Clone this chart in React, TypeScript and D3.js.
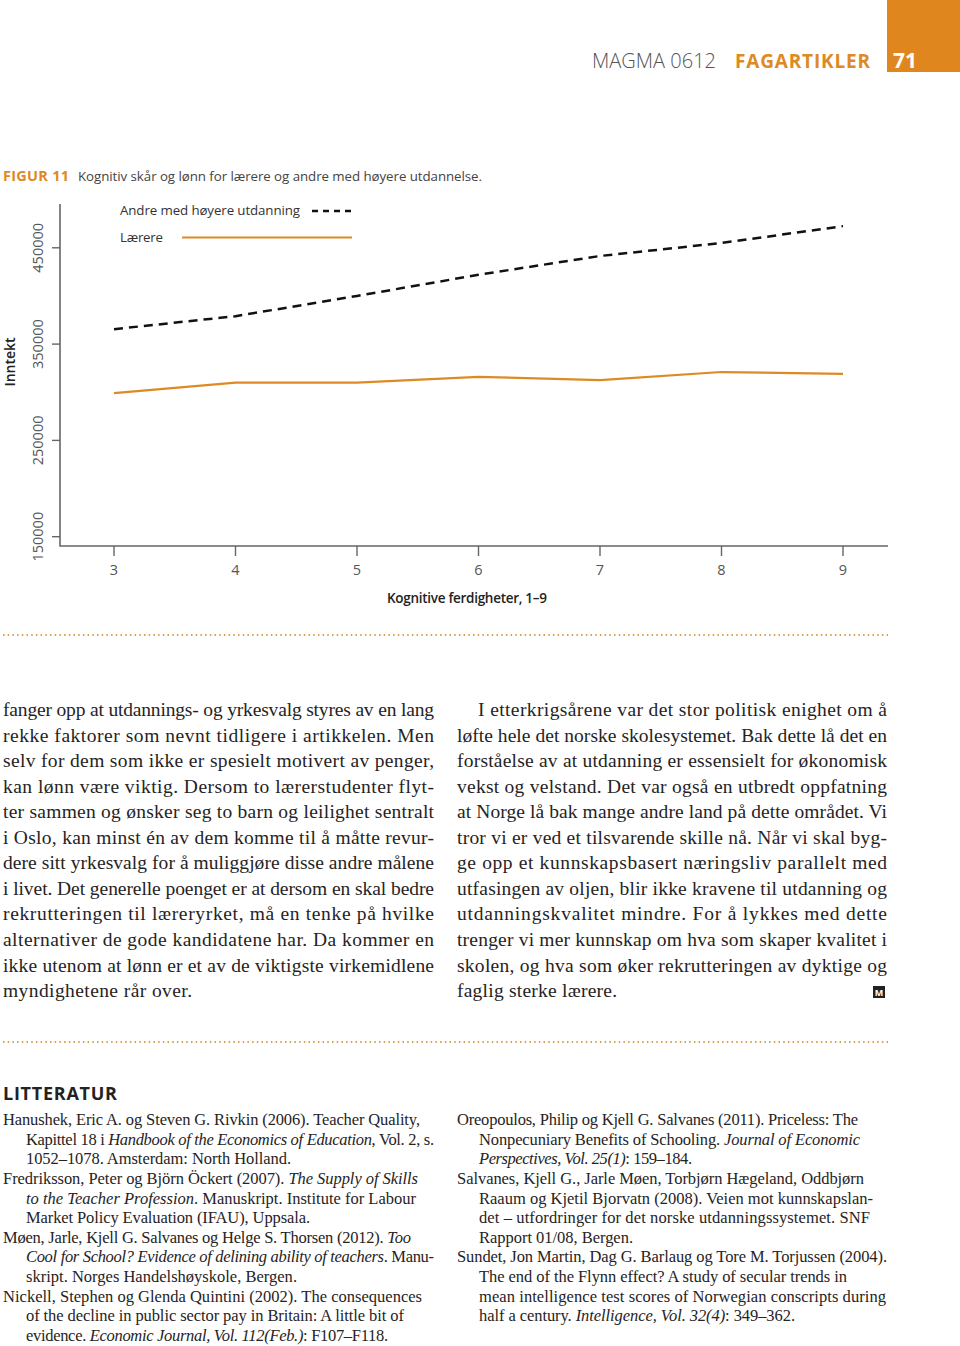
import React from "react";
import * as d3 from "d3";

// ---- Data ----
const skills = [3, 4, 5, 6, 7, 8, 9];
const teachers = [299000, 310000, 310000, 316000, 312500, 321000, 319000];
const others = [365500, 379000, 400000, 422000, 441500, 455000, 472500];
const yTicks = [150000, 250000, 350000, 450000];
const seriesNames = ["Andre med høyere utdanning", "Lærere"];

const leftBody = [
  "fanger opp at utdannings- og yrkesvalg styres av en lang",
  "rekke faktorer som nevnt tidligere i artikkelen. Men",
  "selv for dem som ikke er spesielt motivert av penger,",
  "kan lønn være viktig. Dersom to lærerstudenter flyt-",
  "ter sammen og ønsker seg to barn og leilighet sentralt",
  "i Oslo, kan minst én av dem komme til å måtte revur-",
  "dere sitt yrkesvalg for å muliggjøre disse andre målene",
  "i livet. Det generelle poenget er at dersom en skal bedre",
  "rekrutteringen til læreryrket, må en tenke på hvilke",
  "alternativer de gode kandidatene har. Da kommer en",
  "ikke utenom at lønn er et av de viktigste virkemidlene",
  "myndighetene rår over.",
];
const rightBody = [
  "I etterkrigsårene var det stor politisk enighet om å",
  "løfte hele det norske skolesystemet. Bak dette lå det en",
  "forståelse av at utdanning er essensielt for økonomisk",
  "vekst og velstand. Det var også en utbredt oppfatning",
  "at Norge lå bak mange andre land på dette området. Vi",
  "tror vi er ved et tilsvarende skille nå. Når vi skal byg-",
  "ge opp et kunnskapsbasert næringsliv parallelt med",
  "utfasingen av oljen, blir ikke kravene til utdanning og",
  "utdanningskvalitet mindre. For å lykkes med dette",
  "trenger vi mer kunnskap om hva som skaper kvalitet i",
  "skolen, og hva som øker rekrutteringen av dyktige og",
  "faglig sterke lærere.",
];

const leftRefs = [
  "Hanushek, Eric A. og Steven G. Rivkin (2006). Teacher Quality,",
  "Kapittel 18 i *Handbook of the Economics of Education*, Vol. 2, s.",
  "1052–1078. Amsterdam: North Holland.",
  "Fredriksson, Peter og Björn Öckert (2007). *The Supply of Skills*",
  "*to the Teacher Profession*. Manuskript. Institute for Labour",
  "Market Policy Evaluation (IFAU), Uppsala.",
  "Møen, Jarle, Kjell G. Salvanes og Helge S. Thorsen (2012). *Too*",
  "*Cool for School? Evidence of delining ability of teachers*. Manu-",
  "skript. Norges Handelshøyskole, Bergen.",
  "Nickell, Stephen og Glenda Quintini (2002). The consequences",
  "of the decline in public sector pay in Britain: A little bit of",
  "evidence. *Economic Journal, Vol. 112(Feb.)*: F107–F118.",
];
const rightRefs = [
  "Oreopoulos, Philip og Kjell G. Salvanes (2011). Priceless: The",
  "Nonpecuniary Benefits of Schooling. *Journal of Economic*",
  "*Perspectives, Vol. 25(1)*: 159–184.",
  "Salvanes, Kjell G., Jarle Møen, Torbjørn Hægeland, Oddbjørn",
  "Raaum og Kjetil Bjorvatn (2008). Veien mot kunnskapslan-",
  "det – utfordringer for det norske utdanningssystemet. SNF",
  "Rapport 01/08, Bergen.",
  "Sundet, Jon Martin, Dag G. Barlaug og Tore M. Torjussen (2004).",
  "The end of the Flynn effect? A study of secular trends in",
  "mean intelligence test scores of Norwegian conscripts during",
  "half a century. *Intelligence, Vol. 32(4)*: 349–362.",
];

// ---- Layout (not data) ----
const leftRefIndent = [0, 1, 1, 0, 1, 1, 0, 1, 1, 0, 1, 1];
const leftRefEnd = [420, 434, 291, 418, 416, 310, 411, 434, 297, 422, 404, 388];
const rightRefIndent = [0, 1, 1, 0, 1, 1, 1, 0, 1, 1, 1];
const rightRefEnd = [858, 860, 692, 864, 873, 870, 633, 887, 847, 886, 795];

const ORANGE = "#DE8A24";
const SANS = "'Open Sans', 'DejaVu Sans', sans-serif";
const SERIF = "'Liberation Serif', 'DejaVu Serif', serif";
const TEXT = "#262324";

function Segs({ s }: { s: string }) {
  const parts = s.split("*");
  return (
    <>
      {parts.map((p, i) =>
        p ? (
          <tspan key={i} fontStyle={i % 2 === 1 ? "italic" : "normal"}>
            {p}
          </tspan>
        ) : null
      )}
    </>
  );
}

export default function App() {
  const x = d3.scaleLinear().domain([3, 9]).range([114, 843]);
  const y = d3.scaleLinear().domain([150000, 450000]).range([536.7, 247.8]);
  const line = d3
    .line<number>()
    .x((_, i) => x(skills[i]))
    .y((d) => y(d));

  const bodyBase = 716;
  const bodyStep = 25.55;
  const refBase = 1125;
  const refStep = 19.64;

  return (
    <svg
      width={960}
      height={1346}
      style={{ position: "absolute", left: 0, top: 0, background: "#fff" }}
    >
      <rect x={0} y={0} width={960} height={1346} fill="#fff" />
      {/* Header */}
      <rect x={887} y={0} width={73} height={72} fill="#E0861E" />
      <text x={893} y={68} fontFamily={SANS} fontWeight={700} fontSize={21} fill="#fff">
        71
      </text>
      <text
        x={592}
        y={68}
        fontFamily={SANS}
        fontWeight={300}
        fontSize={20}
        fill="#555"
        textLength={124}
        lengthAdjust="spacing"
      >
        MAGMA 0612
      </text>
      <text
        x={735}
        y={68}
        fontFamily={SANS}
        fontWeight={700}
        fontSize={19}
        fill={ORANGE}
        textLength={135}
        lengthAdjust="spacing"
      >
        FAGARTIKLER
      </text>

      {/* Caption */}
      <text
        x={3}
        y={181}
        fontFamily={SANS}
        fontWeight={700}
        fontSize={14.5}
        fill={ORANGE}
        textLength={66}
        lengthAdjust="spacing"
      >
        FIGUR 11
      </text>
      <text
        x={78}
        y={181}
        fontFamily={SANS}
        fontWeight={400}
        fontSize={13.3}
        fill="#444"
        textLength={404}
        lengthAdjust="spacing"
      >
        Kognitiv skår og lønn for lærere og andre med høyere utdannelse.
      </text>

      {/* Chart axes */}
      <path d="M60,204 V546 H888" fill="none" stroke="#666" strokeWidth={1.6} />
      {yTicks.map((t) => (
        <g key={t}>
          <line x1={52} x2={60} y1={y(t)} y2={y(t)} stroke="#666" strokeWidth={1.4} />
          <text
            transform={`translate(42.5,${y(t)}) rotate(-90)`}
            textAnchor="middle"
            fontFamily={SANS}
            fontSize={14.5}
            fontWeight={400}
            fill="#555"
          >
            {t}
          </text>
        </g>
      ))}
      {skills.map((s) => (
        <g key={s}>
          <line x1={x(s)} x2={x(s)} y1={546} y2={556} stroke="#666" strokeWidth={1.4} />
          <text
            x={x(s)}
            y={575}
            textAnchor="middle"
            fontFamily={SANS}
            fontSize={14.5}
            fontWeight={400}
            fill="#555"
          >
            {s}
          </text>
        </g>
      ))}
      <text
        transform="translate(15,362) rotate(-90)"
        textAnchor="middle"
        fontFamily={SANS}
        fontSize={14}
        fontWeight={600}
        fill="#222"
      >
        Inntekt
      </text>
      <text
        x={467}
        y={603}
        textAnchor="middle"
        fontFamily={SANS}
        fontSize={13.5}
        fontWeight={600}
        fill="#222"
        textLength={160}
        lengthAdjust="spacing"
      >
        Kognitive ferdigheter, 1–9
      </text>

      {/* Series */}
      <path d={line(others) || ""} fill="none" stroke="#111" strokeWidth={2.5} strokeDasharray="9,6" />
      <path d={line(teachers) || ""} fill="none" stroke={ORANGE} strokeWidth={2.2} />

      {/* Legend */}
      <text x={120} y={215} fontFamily={SANS} fontSize={13.3} fill="#333" textLength={180} lengthAdjust="spacing">
        {seriesNames[0]}
      </text>
      <line x1={312} x2={352} y1={211} y2={211} stroke="#111" strokeWidth={2.5} strokeDasharray="6,5" />
      <text x={120} y={242} fontFamily={SANS} fontSize={13.3} fill="#333" textLength={43} lengthAdjust="spacing">
        {seriesNames[1]}
      </text>
      <line x1={182} x2={352} y1={237.5} y2={237.5} stroke={ORANGE} strokeWidth={2.2} />

      {/* Dotted separators */}
      <line x1={3} x2={888} y1={635} y2={635} stroke="#D9A04E" strokeWidth={2} strokeDasharray="1.5,3.2" />
      <line x1={3} x2={888} y1={1042} y2={1042} stroke="#D9A04E" strokeWidth={2} strokeDasharray="1.5,3.2" />

      {/* Body text */}
      {leftBody.map((l, i) => (
        <text
          key={"l" + i}
          x={3}
          y={bodyBase + i * bodyStep}
          fontFamily={SERIF}
          fontSize={19.5}
          fill={TEXT}
          textLength={i < leftBody.length - 1 ? 431 : 189}
          lengthAdjust="spacing"
        >
          {l}
        </text>
      ))}
      {rightBody.map((l, i) => (
        <text
          key={"r" + i}
          x={i === 0 ? 478 : 457}
          y={bodyBase + i * bodyStep}
          fontFamily={SERIF}
          fontSize={19.5}
          fill={TEXT}
          textLength={i < rightBody.length - 1 ? (i === 0 ? 409 : 430) : 160}
          lengthAdjust="spacing"
        >
          {l}
        </text>
      ))}
      {/* End mark */}
      <rect x={873} y={986} width={12} height={12} fill="#222" />
      <text x={879} y={996} textAnchor="middle" fontFamily={SANS} fontWeight={700} fontSize={9} fill="#fff">
        M
      </text>

      {/* Litteratur */}
      <text
        x={3}
        y={1100}
        fontFamily={SANS}
        fontWeight={700}
        fontSize={18}
        fill="#222"
        textLength={114}
        lengthAdjust="spacing"
      >
        LITTERATUR
      </text>
      {leftRefs.map((l, i) => {
        const x0 = leftRefIndent[i] ? 26 : 3;
        return (
          <text
            key={"lr" + i}
            x={x0}
            y={refBase + i * refStep}
            fontFamily={SERIF}
            fontSize={16.5}
            fill={TEXT}
            textLength={leftRefEnd[i] - x0}
            lengthAdjust="spacing"
          >
            <Segs s={l} />
          </text>
        );
      })}
      {rightRefs.map((l, i) => {
        const x0 = rightRefIndent[i] ? 479 : 457;
        return (
          <text
            key={"rr" + i}
            x={x0}
            y={refBase + i * refStep}
            fontFamily={SERIF}
            fontSize={16.5}
            fill={TEXT}
            textLength={rightRefEnd[i] - x0}
            lengthAdjust="spacing"
          >
            <Segs s={l} />
          </text>
        );
      })}
    </svg>
  );
}
